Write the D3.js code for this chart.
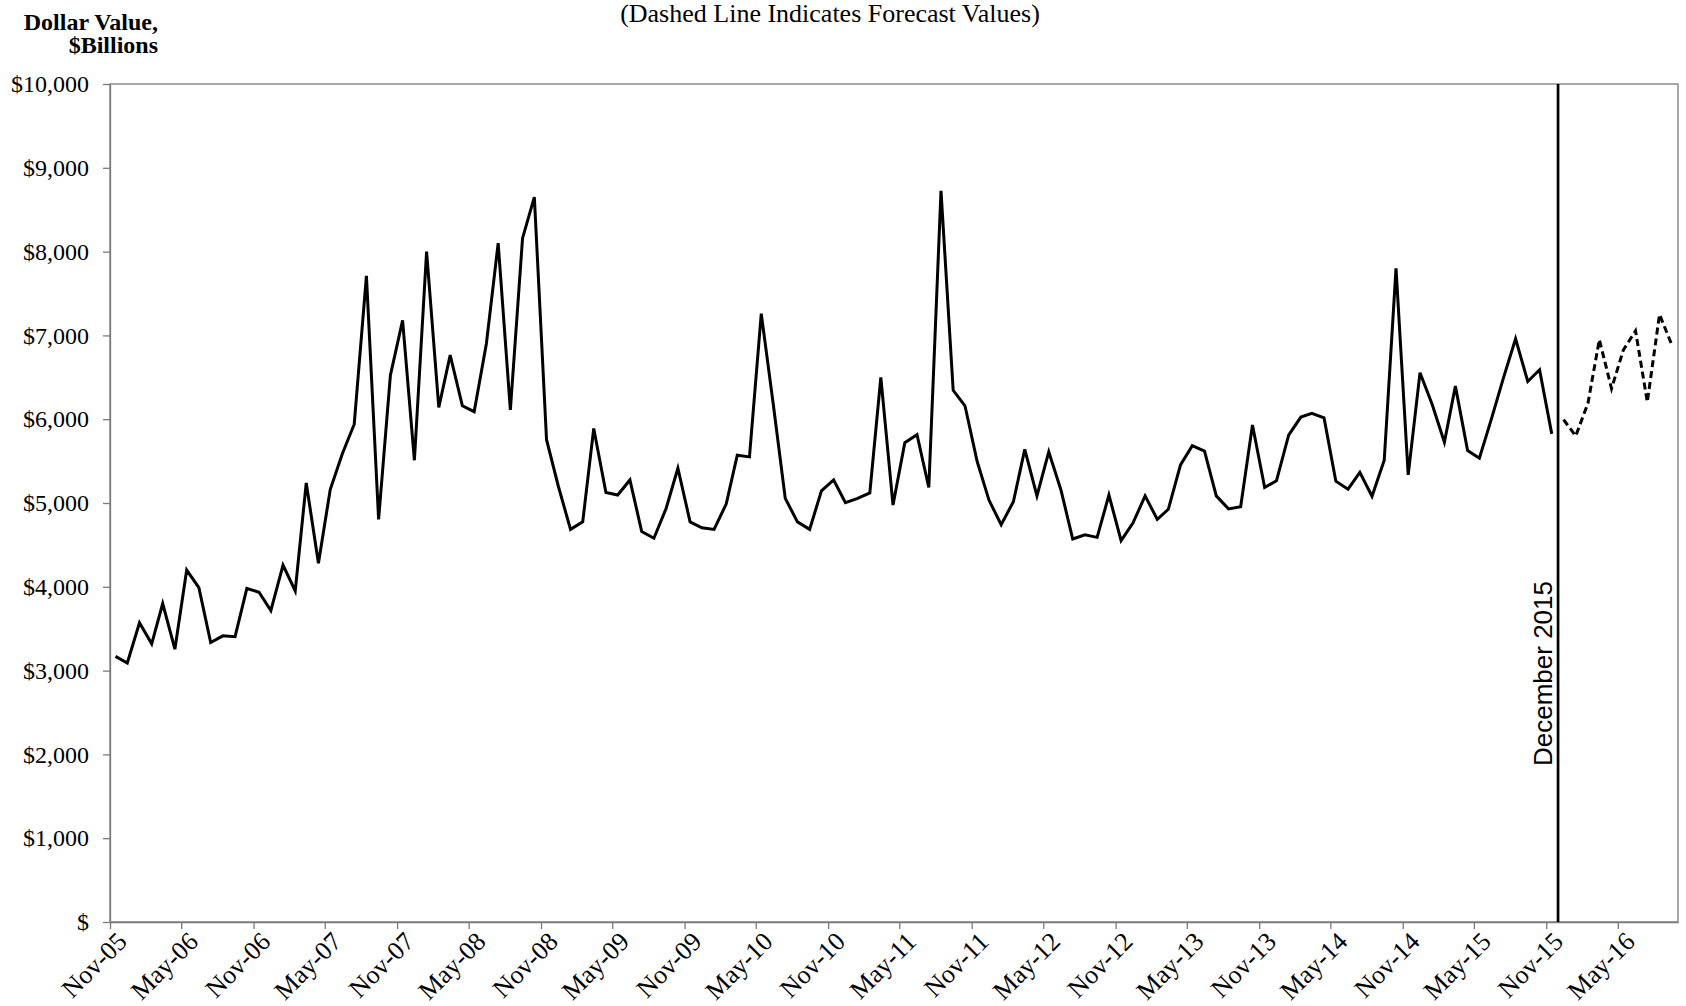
<!DOCTYPE html>
<html>
<head>
<meta charset="utf-8">
<script src="https://cdn.jsdelivr.net/npm/d3@7"></script>
<style>
  body { margin: 0; background: #fff; }
  text { fill: #000; }
</style>
</head>
<body>
<div id="chart"></div>
<script>
// Define SVG area dimensions
var svgWidth = 1686;
var svgHeight = 1006;
var serif = "'Liberation Serif', 'Times New Roman', serif";
var sans = "'Liberation Sans', Arial, sans-serif";

// Plot area edges
var margin = {
  top: 84,
  right: 8,
  bottom: 84,
  left: 110
};

var chartWidth = svgWidth - margin.left - margin.right;
var chartHeight = svgHeight - margin.top - margin.bottom;

// Data: monthly values ($ billions), actuals start Nov-05, forecast starts Dec-15
var actualStart = [2005, 10];
var actualValues = [
  3170, 3090, 3570, 3320, 3800, 3255, 4200, 3990, 3335, 3415, 3405, 3980,
  3935, 3715, 4260, 3950, 5240, 4280, 5160, 5590, 5940, 7710, 4805, 6525,
  7180, 5510, 8000, 6140, 6765, 6160, 6090, 6900, 8100, 6110, 8160, 8650,
  5755, 5200, 4685, 4775, 5890, 5125, 5095, 5275, 4660, 4580, 4935, 5415,
  4775, 4705, 4685, 4990, 5570, 5550, 7260, 6160, 5055, 4775, 4685, 5145,
  5275, 5005, 5055, 5120, 6500, 4975, 5720, 5815, 5185, 8725, 6345, 6160,
  5495, 5035, 4740, 5015, 5640, 5085, 5610, 5155, 4570, 4620, 4590, 5095,
  4550, 4760, 5085, 4805, 4925, 5455, 5685, 5620, 5085, 4930, 4955, 5930,
  5185, 5265, 5810, 6025, 6070, 6015, 5260, 5165, 5365, 5080, 5510, 7800,
  5335, 6555, 6175, 5725, 6395, 5625, 5535, 6010, 6490, 6960, 6450, 6590,
  5825
];
var forecastStart = [2015, 11];
var forecastValues = [5995, 5800, 6190, 6950, 6365, 6825, 7055, 6205, 7250, 6890];

var yTicks = [0, 1000, 2000, 3000, 4000, 5000, 6000, 7000, 8000, 9000, 10000];
var axisStart = new Date(2005, 10, 1);
var axisEnd = new Date(2016, 9, 1);
var markerDate = new Date(2015, 11, 1);
var markerLabel = "December 2015";
var titleText = "(Dashed Line Indicates Forecast Values)";
var yTitle = ["Dollar Value,", "$Billions"];

// points sit in the middle of their month
function toPoints(start, values) {
  return values.map(function(v, i) {
    return { date: new Date(start[0], start[1] + i, 15), value: v };
  });
}
var actualData = toPoints(actualStart, actualValues);
var forecastData = toPoints(forecastStart, forecastValues);

var svg = d3.select("#chart")
  .append("svg")
  .attr("width", svgWidth)
  .attr("height", svgHeight);

var chartGroup = svg.append("g")
  .attr("transform", `translate(${margin.left}, ${margin.top})`);

// scales
var xTimeScale = d3.scaleTime()
  .domain([axisStart, axisEnd])
  .range([0, chartWidth]);

var yLinearScale = d3.scaleLinear()
  .domain([0, 10000])
  .range([chartHeight, 0]);

// plot area frame
chartGroup.append("rect")
  .attr("x", 0)
  .attr("y", 0)
  .attr("width", chartWidth)
  .attr("height", chartHeight)
  .attr("fill", "none")
  .attr("stroke", "#7a7a7a")
  .attr("stroke-width", 1.3);

// axes
var bottomAxis = d3.axisBottom(xTimeScale)
  .tickValues(d3.timeMonth.range(axisStart, axisEnd, 6))
  .tickFormat(d3.timeFormat("%b-%y"))
  .tickSizeInner(7)
  .tickSizeOuter(0)
  .tickPadding(0);

var leftAxis = d3.axisLeft(yLinearScale)
  .tickValues(yTicks)
  .tickFormat(function(d) { return d === 0 ? "$" : "$" + d3.format(",")(d); })
  .tickSizeInner(7)
  .tickSizeOuter(0)
  .tickPadding(14);

var xAxis = chartGroup.append("g")
  .attr("transform", `translate(0, ${chartHeight})`)
  .call(bottomAxis);

// rotated month labels, ending just right of their tick
xAxis.selectAll("text")
  .style("font-family", serif)
  .style("font-size", "26px")
  .attr("text-anchor", "end")
  .attr("y", 0)
  .attr("dy", 0)
  .attr("transform", "translate(18, 21) rotate(-45)");

var yAxis = chartGroup.append("g")
  .call(leftAxis);

yAxis.selectAll("text")
  .style("font-family", serif)
  .style("font-size", "24px");

chartGroup.selectAll(".domain, .tick line")
  .attr("stroke", "#7a7a7a")
  .attr("stroke-width", 1.3);

// actual values line
var line = d3.line()
  .x(d => xTimeScale(d.date))
  .y(d => yLinearScale(d.value));

chartGroup.append("path")
  .datum(actualData)
  .attr("fill", "none")
  .attr("stroke", "#000")
  .attr("stroke-width", 3)
  .attr("stroke-linejoin", "miter")
  .attr("d", line);

// forecast line
chartGroup.append("path")
  .datum(forecastData)
  .attr("fill", "none")
  .attr("stroke", "#000")
  .attr("stroke-width", 3)
  .attr("stroke-dasharray", "7,4")
  .attr("d", line);

// December 2015 marker
chartGroup.append("line")
  .attr("x1", xTimeScale(markerDate))
  .attr("x2", xTimeScale(markerDate))
  .attr("y1", 0)
  .attr("y2", chartHeight)
  .attr("stroke", "#000")
  .attr("stroke-width", 2.7);

chartGroup.append("text")
  .attr("transform", `translate(${xTimeScale(markerDate) - 6}, ${766 - margin.top}) rotate(-90)`)
  .style("font-family", sans)
  .style("font-size", "26px")
  .text(markerLabel);

// titles
svg.append("text")
  .attr("x", 830)
  .attr("y", 22)
  .attr("text-anchor", "middle")
  .style("font-family", serif)
  .style("font-size", "26px")
  .text(titleText);

svg.selectAll(".ytitle")
  .data(yTitle)
  .enter()
  .append("text")
  .attr("class", "ytitle")
  .attr("x", 158)
  .attr("y", (d, i) => 30 + i * 23)
  .attr("text-anchor", "end")
  .style("font-family", serif)
  .style("font-size", "24px")
  .style("font-weight", "bold")
  .text(d => d);
</script>
</body>
</html>
